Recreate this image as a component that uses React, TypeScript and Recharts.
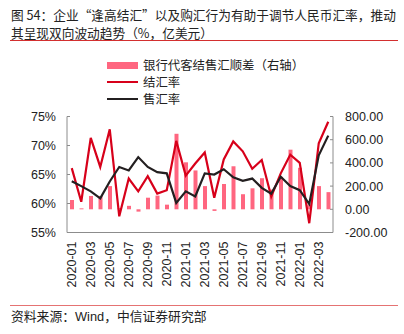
import React from 'react';
import { ComposedChart, Bar, Line, XAxis, YAxis } from 'recharts';

const months = [
  '2020-01', '2020-02', '2020-03', '2020-04', '2020-05', '2020-06', '2020-07', '2020-08', '2020-09', '2020-10', '2020-11', '2020-12',
  '2021-01', '2021-02', '2021-03', '2021-04', '2021-05', '2021-06', '2021-07', '2021-08', '2021-09', '2021-10', '2021-11', '2021-12',
  '2022-01', '2022-02', '2022-03', '2022-04',
];
// 银行代客结售汇顺差（亿美元，右轴）
const surplus = [80, 8, 115, 115, 200, 10, 30, -20, 100, 118, 40, 651, 405, 335, 200, -14, 218, 371, 130, 181, 268, 170, 280, 514, 358, 40, 200, 148];
// 结汇率 (%)
const settleRate = [66.1, 60.3, 71.3, 66.3, 72.8, 57.8, 64.3, 62.1, 64.7, 61.7, 62.3, 70.8, 64.8, 66.9, 68.8, 61.0, 67.6, 70.7, 69.0, 66.0, 67.5, 61.2, 65.2, 68.4, 67.0, 56.6, 70.4, 74.1];
// 售汇率 (%)
const saleRate = [63.85, 63.0, 62.1, 60.9, 63.8, 66.3, 65.7, 68.0, 66.3, 65.4, 65.2, 60.1, 62.1, 61.2, 65.2, 65.0, 65.9, 64.5, 63.9, 64.3, 62.7, 61.7, 64.6, 63.0, 62.3, 59.9, 68.3, 71.7];

const leftTicks = [55, 60, 65, 70, 75];
const rightTicks = [-200, 0, 200, 400, 600, 800];
const boundaryTicks = [2, 4, 6, 8, 10, 12, 14, 16, 18, 20, 22, 24, 26];

const seriesNames = ['银行代客结售汇顺差（右轴）', '结汇率', '售汇率'];
const title1 = '图 54：企业“逢高结汇”以及购汇行为有助于调节人民币汇率，推动';
const title2 = '其呈现双向波动趋势（%，亿美元）';
const source = '资料来源：Wind，中信证券研究部';

const data = months.map((m, i) => ({
  month: m,
  surplus: surplus[i],
  settle: settleRate[i],
  sale: saleRate[i],
}));

const FONT = '"Liberation Sans", Arial, "Noto Sans CJK SC", sans-serif';
const CJK = '"Noto Sans CJK SC", "Liberation Sans", sans-serif';
const BAR = '#FF6680';
const RED = '#D7001A';
const BLACK = '#231F20';
const AXIS = '#8C8C8C';
const TXT = '#222';

const XTick = (props: any) => {
  const { x, y, payload, index } = props;
  if (index % 2 !== 0) return null;
  return (
    <text
      x={x}
      y={y}
      transform={`rotate(-90 ${x} ${y})`}
      textAnchor="end"
      dy="0.35em"
      fontSize={12.5}
      fontFamily={FONT}
      fill={TXT}
    >
      {payload.value}
    </text>
  );
};

const colors = [BAR, RED, BLACK];

export default function App() {
  return (
    <div style={{ position: 'absolute', left: 0, top: 0, width: 404, height: 334, background: '#fff', overflow: 'hidden' }}>
      <ComposedChart
        width={404}
        height={334}
        data={data}
        margin={{ top: 116.5, right: 0, bottom: 41.5, left: 0 }}
        style={{ position: 'absolute', left: 0, top: 0 }}
      >
        <XAxis
          xAxisId="t"
          type="number"
          domain={[0, 28]}
          ticks={boundaryTicks}
          allowDataOverflow
          height={1}
          tick={false}
          axisLine={false}
          tickSize={-3}
          tickLine={{ stroke: AXIS }}
        />
        <XAxis
          dataKey="month"
          height={59}
          interval={0}
          tick={<XTick />}
          tickLine={false}
          tickSize={0}
          tickMargin={9}
          axisLine={{ stroke: AXIS }}
        />
        <YAxis
          yAxisId="left"
          orientation="left"
          width={67}
          domain={[55, 75]}
          ticks={leftTicks}
          interval={0}
          tickFormatter={(v: number) => `${v}%`}
          tick={{ fontSize: 12.5, fontFamily: FONT, fill: TXT }}
          tickSize={-3}
          tickMargin={14}
          tickLine={{ stroke: AXIS }}
          axisLine={{ stroke: AXIS }}
        />
        <YAxis
          yAxisId="right"
          orientation="right"
          width={71}
          domain={[-200, 800]}
          ticks={rightTicks}
          interval={0}
          tickFormatter={(v: number) => v.toFixed(2)}
          tick={{ fontSize: 12.5, fontFamily: FONT, fill: TXT, textAnchor: 'start' }}
          tickSize={-3}
          tickMargin={15}
          tickLine={{ stroke: AXIS }}
          axisLine={{ stroke: AXIS }}
        />
        <Bar yAxisId="right" dataKey="surplus" name={seriesNames[0]} fill={BAR} barSize={4} isAnimationActive={false} />
        <Line yAxisId="left" dataKey="settle" name={seriesNames[1]} stroke={RED} strokeWidth={2.2} dot={false} isAnimationActive={false} />
        <Line yAxisId="left" dataKey="sale" name={seriesNames[2]} stroke={BLACK} strokeWidth={2.2} dot={false} isAnimationActive={false} />
      </ComposedChart>
      <div style={{ position: 'absolute', left: 107, top: 56.5, fontFamily: CJK, fontSize: 12.4, color: TXT }}>
        {seriesNames.map((n, i) => (
          <div key={n} style={{ display: 'flex', alignItems: 'center', height: 17 }}>
            <div style={{ width: 31, display: 'flex', alignItems: 'center' }}>
              <div style={{ width: 31, height: i === 0 ? 7 : 2.2, background: colors[i] }} />
            </div>
            <span style={{ marginLeft: 5, whiteSpace: 'nowrap' }}>{n}</span>
          </div>
        ))}
      </div>
      <div style={{ position: 'absolute', left: 11, top: 6, fontFamily: CJK, fontSize: 12.7, lineHeight: '18px', color: TXT, whiteSpace: 'nowrap' }}>
        <div>{title1}</div>
        <div>{title2}</div>
      </div>
      <div style={{ position: 'absolute', left: 10, top: 39.5, width: 388, height: 1, background: '#D32F2F' }} />
      <div style={{ position: 'absolute', left: 10, top: 304.5, width: 388, height: 1.2, background: '#E57373' }} />
      <div style={{ position: 'absolute', left: 11, top: 308, fontFamily: FONT, fontSize: 12.8, lineHeight: '18px', color: TXT, whiteSpace: 'nowrap' }}>
        {source}
      </div>
    </div>
  );
}
